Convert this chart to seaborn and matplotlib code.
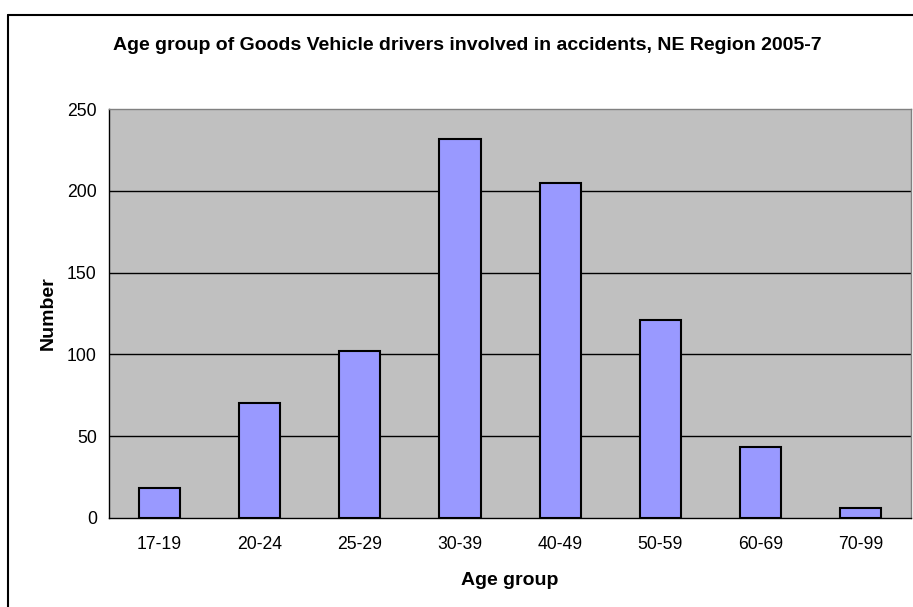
import matplotlib
matplotlib.use("Agg")
import matplotlib.pyplot as plt
import seaborn as sns
import pandas as pd
from matplotlib.lines import Line2D

# values
age_groups = ["17-19", "20-24", "25-29", "30-39", "40-49", "50-59", "60-69", "70-99"]
drivers = [18, 70, 102, 232, 205, 121, 43, 6]
y_ticks = [0, 50, 100, 150, 200, 250]

df = pd.DataFrame({"Age group": age_groups, "Number": drivers})

sns.set_style("white")
plt.rcParams["font.family"] = ["Liberation Sans", "DejaVu Sans"]
plt.rcParams["text.color"] = "black"
plt.rcParams["axes.labelcolor"] = "black"
plt.rcParams["xtick.color"] = "black"
plt.rcParams["ytick.color"] = "black"

fig = plt.figure(figsize=(9.13, 6.07), dpi=100)
ax = fig.add_axes([0.1197, 0.1471, 0.8781, 0.6728])
ax.set_facecolor("#C0C0C0")

sns.barplot(data=df, x="Age group", y="Number", color="#9999FF", saturation=1,
            edgecolor="black", linewidth=1.5, width=0.41, ax=ax)

# horizontal gridlines like excel
for v in y_ticks[1:-1]:
    ax.axhline(v, color="black", lw=1, zorder=0.5)

ax.set_ylim(0, 250)
ax.set_xlim(-0.5, len(age_groups) - 0.5)
ax.set_yticks(y_ticks)
ax.set_yticklabels([str(v) for v in y_ticks], fontsize=12.7, color="black")

# ticks between categories, labels in the middle
ax.set_xticks([i - 0.5 for i in range(len(age_groups) + 1)])
ax.set_xticklabels([])
ax.set_xticks(range(len(age_groups)), minor=True)
ax.set_xticklabels(age_groups, minor=True, fontsize=12.7, color="black")
ax.tick_params(axis="x", which="major", length=5, width=1, color="#808080", direction="out")
ax.tick_params(axis="x", which="minor", length=0, pad=13)
ax.tick_params(axis="y", length=5, width=1, color="black", direction="out", pad=4)

for s in ax.spines.values():
    s.set_color("#808080")
    s.set_linewidth(1)
ax.spines["bottom"].set_color("black")
ax.spines["left"].set_color("black")

ax.set_xlabel("Age group", fontsize=14, fontweight="bold", labelpad=14, color="black")
ax.set_ylabel("Number", fontsize=14, fontweight="bold", labelpad=7, color="black")

fig.text(467.5 / 913, 1 - 45 / 607, "Age group of Goods Vehicle drivers involved in accidents, NE Region 2005-7",
         ha="center", va="center", fontsize=14, fontweight="bold", color="black")

# outer chart border (only top and left visible)
fig.add_artist(Line2D([8 / 913, 8 / 913], [0, 1 - 15 / 607], color="black", lw=1.5,
                      transform=fig.transFigure))
fig.add_artist(Line2D([8 / 913, 1], [1 - 15 / 607, 1 - 15 / 607], color="black", lw=1.5,
                      transform=fig.transFigure))

fig.savefig("out.png", dpi=100)
